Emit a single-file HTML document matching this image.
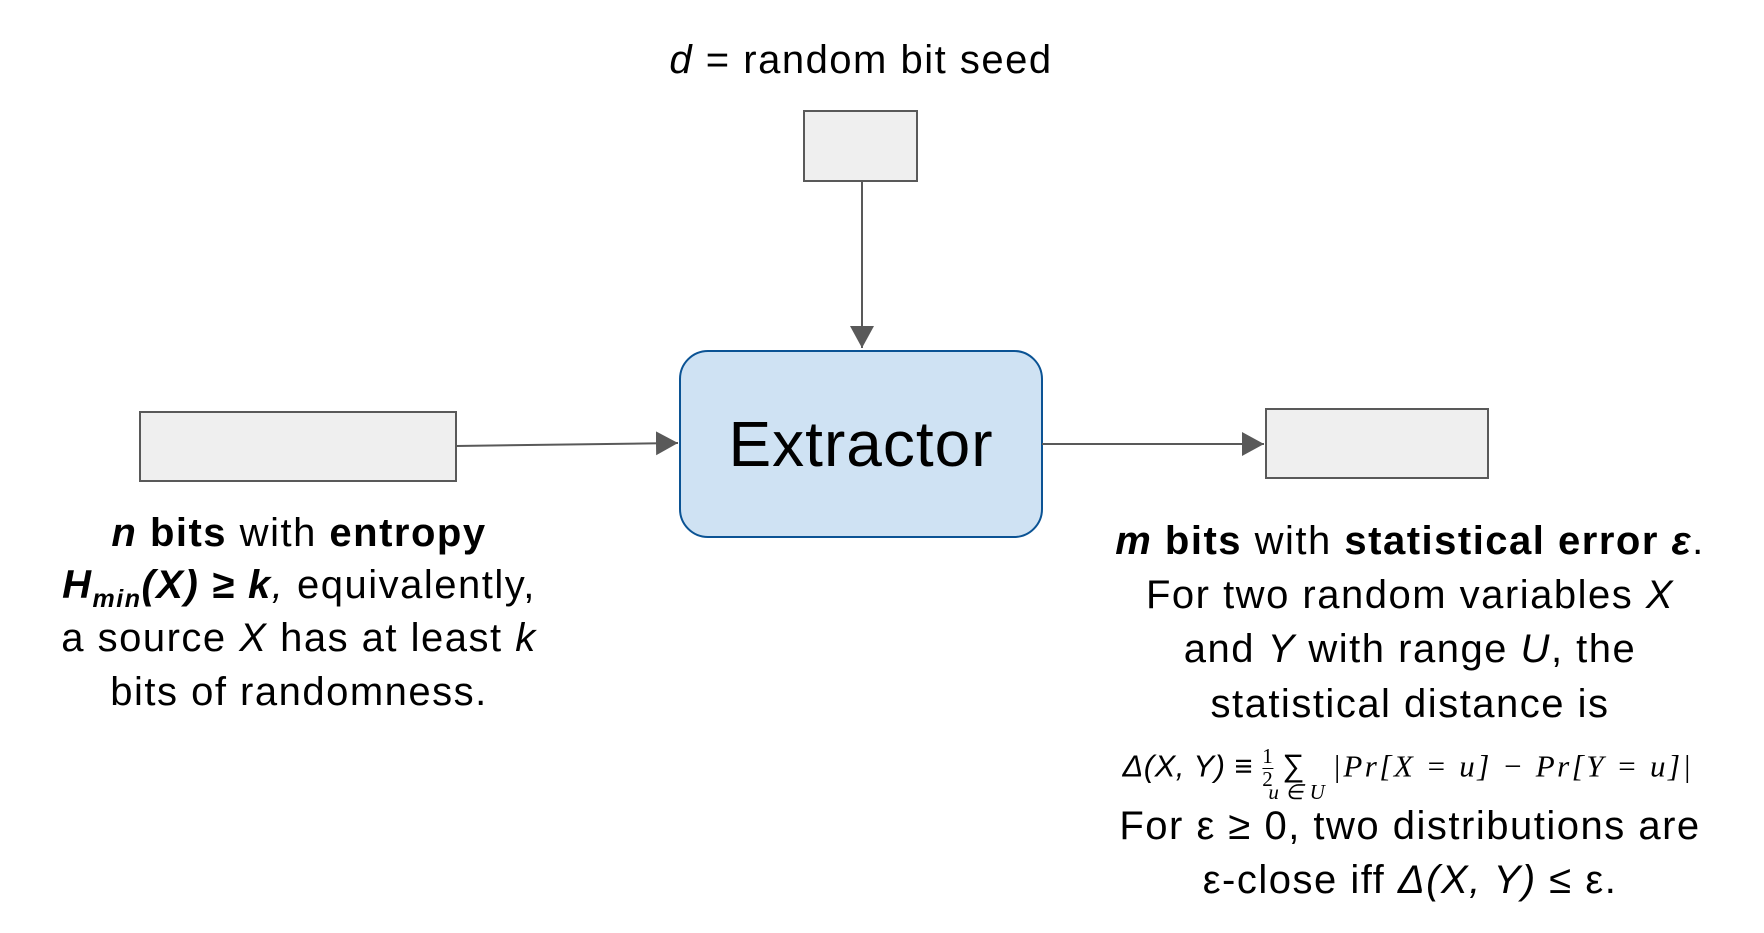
<!DOCTYPE html>
<html><head><meta charset="utf-8"><style>
body{margin:0;width:1764px;height:933px;background:#fff;position:relative;overflow:hidden;font-family:"Liberation Sans",sans-serif;color:#000}
.t{position:absolute;white-space:nowrap;transform:translateX(-50%);font-size:40px;line-height:1;letter-spacing:1.5px}
.s{font-family:"Liberation Serif",serif;font-style:italic}
</style></head><body>
<svg width="1764" height="933" style="position:absolute;left:0;top:0">
<defs><marker id="b" markerWidth="22" markerHeight="24" refX="22" refY="12" orient="auto" markerUnits="userSpaceOnUse"><path d="M0,0 L22,12 L0,24z" fill="#595959"/></marker></defs>
<rect x="804" y="111" width="113" height="70" fill="#efefef" stroke="#595959" stroke-width="2"/>
<rect x="140" y="412" width="316" height="69" fill="#efefef" stroke="#595959" stroke-width="2"/>
<rect x="1266" y="409" width="222" height="69" fill="#efefef" stroke="#595959" stroke-width="2"/>
<rect x="680" y="351" width="362" height="186" rx="28" fill="#cfe2f3" stroke="#0b5394" stroke-width="2"/>
<line x1="862" y1="181" x2="862" y2="348" stroke="#595959" stroke-width="2" marker-end="url(#b)"/>
<line x1="456" y1="446" x2="678" y2="443" stroke="#595959" stroke-width="2" marker-end="url(#b)"/>
<line x1="1042" y1="444" x2="1264" y2="444" stroke="#595959" stroke-width="2" marker-end="url(#b)"/>
</svg>
<div class="t" style="left:861px;top:40px;font-size:40px;letter-spacing:1.5px"><i>d</i> = random bit seed</div>
<div class="t" style="left:861px;top:412px;font-size:64px;letter-spacing:1px">Extractor</div>
<div class="t" style="left:299px;top:513px"><b><i>n</i> bits</b> with <b>entropy</b></div>
<div class="t" style="left:299px;top:565px"><b><i>H<sub style="font-size:25px">min</sub>(X) ≥ k</i></b><i>,</i> equivalently,</div>
<div class="t" style="left:299px;top:618px">a source <i>X</i> has at least <i>k</i></div>
<div class="t" style="left:299px;top:672px">bits of randomness.</div>
<div class="t" style="left:1410px;top:521px"><b><i>m</i> bits</b> with <b>statistical error <i>ε</i></b>.</div>
<div class="t" style="left:1410px;top:575px">For two random variables <i>X</i></div>
<div class="t" style="left:1410px;top:629px">and <i>Y</i> with range <i>U</i>, the</div>
<div class="t" style="left:1410px;top:684px">statistical distance is</div>
<div class="t" style="left:1408px;top:745px;font-size:31px;letter-spacing:0.5px"><i>Δ(X, Y)</i> ≡ <span class="s" style="font-style:normal;font-size:21px;display:inline-block;vertical-align:middle;text-align:center;line-height:1.1"><span style="border-bottom:1px solid #000">1</span><br>2</span> <span style="position:relative">∑<span class="s" style="position:absolute;left:-14px;top:34px;font-size:21px">u ∈ U</span></span>&nbsp;&nbsp; <span class="s" style="letter-spacing:2.5px">|Pr[X = u] − Pr[Y = u]|</span></div>
<div class="t" style="left:1410px;top:806px">For ε ≥ 0, two distributions are</div>
<div class="t" style="left:1410px;top:860px">ε-close iff <i>Δ(X, Y)</i> ≤ ε.</div>
</body></html>
